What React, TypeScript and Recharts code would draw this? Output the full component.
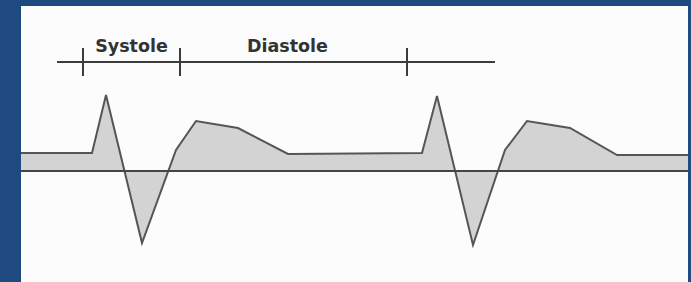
import { Area, ComposedChart, ReferenceLine, XAxis, YAxis } from "recharts";

// time (arbitrary units) and pressure relative to the baseline
const times = [0, 71, 85, 121, 155, 175, 217, 267, 401, 416, 452, 484, 506, 549, 596, 667];
const pressure = [18, 18, 76, -72, 21, 50, 43, 17, 18, 75, -74, 21, 50, 43, 16, 16];

// phase boundaries on the time axis and their names
const phaseBounds = [62, 159, 386];
const phaseNames = ["Systole", "Diastole"];

const data = times.map((t, i) => ({ t, p: pressure[i] }));

const BRACKET_Y = 109;
const TICK_HALF = 14;
const INK = "#3c3c3c";

export default function App() {
  return (
    <div
      style={{
        position: "fixed",
        left: 0,
        top: 0,
        width: 691,
        height: 282,
        background: "#1f4a80",
      }}
    >
      <div
        style={{
          position: "absolute",
          left: 21,
          top: 6,
          width: 667,
          height: 276,
          background: "#fcfcfd",
        }}
      >
        <ComposedChart width={667} height={276} data={data} margin={{ top: 0, right: 0, bottom: 0, left: 0 }}>
          <XAxis dataKey="t" type="number" domain={[0, 667]} hide />
          <YAxis type="number" domain={[-111, 165]} hide />
          <Area
            type="linear"
            dataKey="p"
            baseValue={0}
            stroke="#555"
            strokeWidth={2}
            fill="#d3d3d3"
            fillOpacity={1}
            isAnimationActive={false}
          />
          <ReferenceLine y={0} stroke="#454545" strokeWidth={2} />
          <ReferenceLine
            segment={[
              { x: 36, y: BRACKET_Y },
              { x: 474, y: BRACKET_Y },
            ]}
            stroke={INK}
            strokeWidth={2}
          />
          {phaseBounds.map((b) => (
            <ReferenceLine
              key={b}
              segment={[
                { x: b, y: BRACKET_Y - TICK_HALF },
                { x: b, y: BRACKET_Y + TICK_HALF },
              ]}
              stroke={INK}
              strokeWidth={2}
            />
          ))}
          {phaseNames.map((name, i) => (
            <ReferenceLine
              key={name}
              segment={[
                { x: phaseBounds[i], y: BRACKET_Y },
                { x: phaseBounds[i + 1], y: BRACKET_Y },
              ]}
              stroke="none"
              label={(props: any) => {
                const vb = props.viewBox || {};
                const cx = vb.x + vb.width / 2 - (i === 1 ? 6 : 0);
                return (
                  <text
                    x={cx}
                    y={vb.y - 10}
                    textAnchor="middle"
                    fontFamily="DejaVu Sans"
                    fontWeight="bold"
                    fontSize={17.5}
                    fill="#333"
                  >
                    {name}
                  </text>
                );
              }}
            />
          ))}
        </ComposedChart>
      </div>
    </div>
  );
}
